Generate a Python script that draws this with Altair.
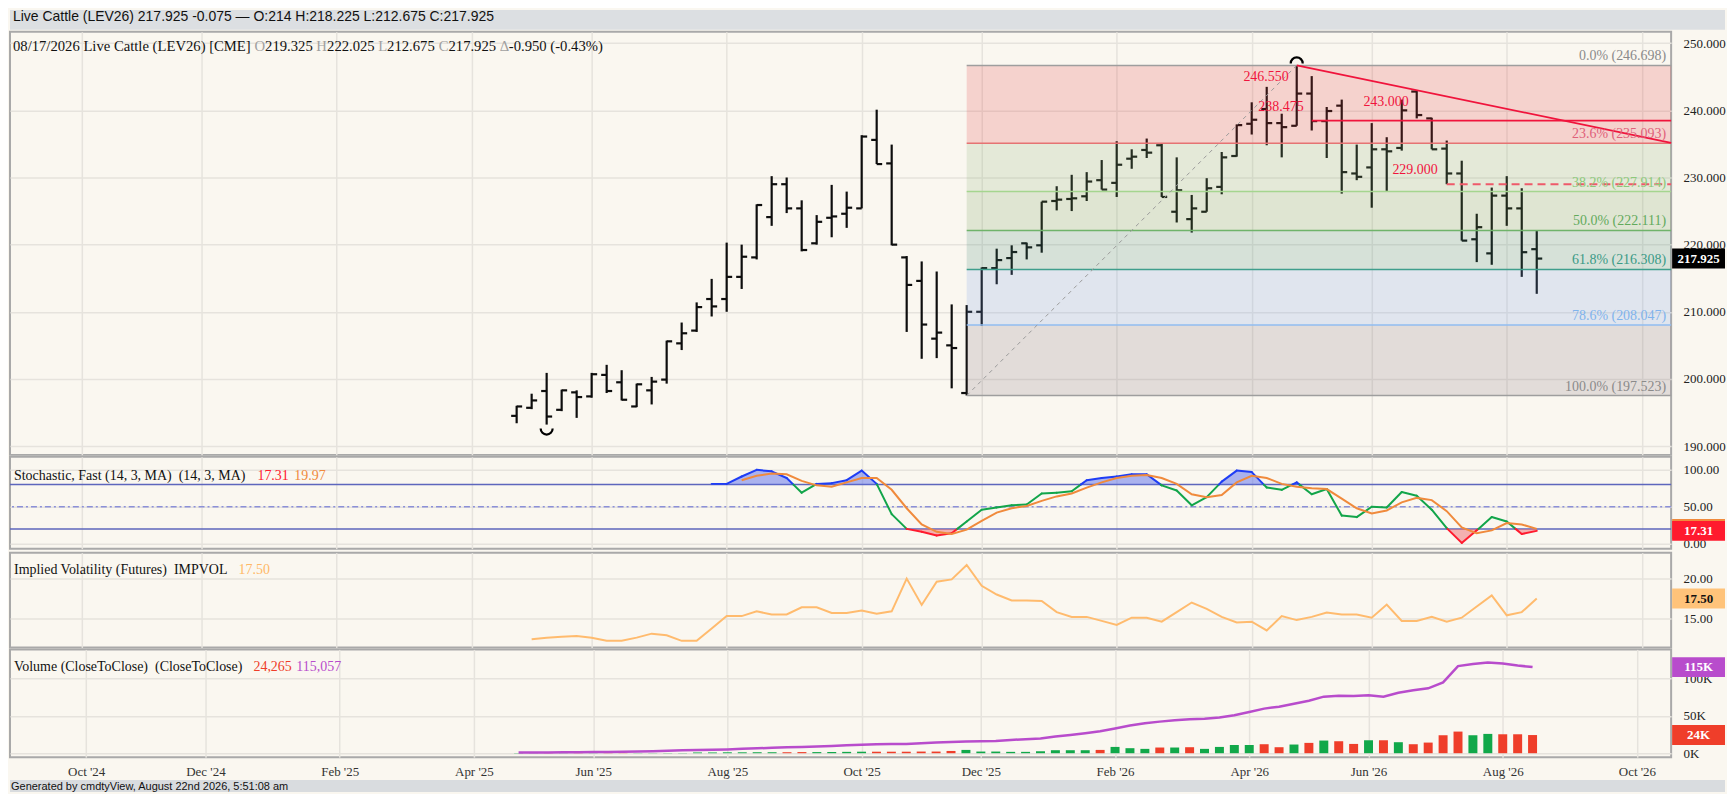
import altair as alt
import pandas as pd

FONT = "Liberation Serif"
SANS = "Liberation Sans"
CREAM = "#faf7f0"
GRID = "#e6e3dd"
BAR = "#0d0d0d"
RED = "#f0143c"
W = 1665

# ---------------- data ----------------
first_bar = "2025-04-28"   # weekly bars (Mondays)
n_bars = 69

opens = [194.5, 195.7, 198.2, 195.4, 198.0, 197.4, 200.6, 199.5, 195.9, 198.3,
         199.9, 205.3, 207.2, 211.9, 211.9, 215.2, 218.1, 224.1, 229.0, 225.4,
         220.2, 224.0, 224.6, 225.4, 235.6, 232.1, 218.1, 214.6, 206.0, 205.0,
         197.9, 210.0, 216.5, 218.0, 220.2, 219.9, 226.5, 226.8, 227.2, 229.6,
         229.2, 232.8, 234.1, 234.8, 224.9, 223.8, 224.9, 228.6, 233.2, 238.0,
         240.2, 238.1, 237.7, 242.5, 238.4, 240.7, 230.6, 231.5, 234.2, 234.4,
         242.8, 238.8, 234.3, 230.6, 220.8, 218.7, 227.3, 225.4, 219.325]
highs = [196.0, 197.8, 200.9, 198.4, 198.3, 200.9, 202.1, 201.3, 199.3, 200.3,
         205.7, 208.4, 211.4, 214.9, 220.3, 220.0, 226.0, 230.2, 230.0, 226.6,
         224.4, 228.9, 227.9, 236.3, 240.1, 234.9, 218.3, 217.5, 216.0, 211.1,
         211.0, 216.6, 219.4, 219.9, 220.3, 226.4, 228.7, 230.4, 230.8, 232.6,
         235.4, 234.2, 235.8, 235.0, 233.0, 227.4, 229.9, 233.8, 237.9, 241.2,
         243.5, 239.5, 246.698, 245.1, 240.5, 241.6, 234.9, 238.1, 236.0, 241.6,
         243.0, 238.9, 235.5, 232.5, 224.6, 228.5, 230.2, 228.4, 222.025]
lows = [193.4, 195.5, 193.2, 195.2, 194.2, 197.2, 197.9, 196.8, 195.8, 196.2,
        199.3, 204.3, 207.0, 209.3, 210.0, 213.4, 217.8, 222.8, 224.7, 219.0,
        220.0, 221.1, 222.5, 225.4, 232.0, 219.9, 207.0, 203.0, 203.1, 198.6,
        197.523, 207.9, 214.1, 215.5, 217.8, 218.8, 225.1, 225.0, 226.5, 228.2,
        227.1, 231.3, 232.9, 227.1, 223.3, 221.8, 224.9, 227.5, 233.1, 236.4,
        234.8, 233.0, 237.7, 237.0, 232.9, 227.6, 229.6, 225.5, 228.0, 234.0,
        238.8, 234.2, 229.0, 220.6, 217.4, 217.0, 222.8, 215.2, 212.675]
closes = [195.9, 196.8, 194.4, 198.3, 197.3, 200.7, 198.2, 196.9, 199.2, 199.6,
          205.6, 206.8, 210.7, 210.8, 215.2, 218.2, 225.9, 229.0, 225.4, 219.2,
          223.4, 224.2, 225.5, 236.1, 232.0, 220.0, 214.0, 208.1, 206.9, 204.6,
          210.0, 216.5, 217.7, 218.9, 219.6, 226.4, 226.7, 226.9, 229.4, 228.2,
          231.9, 233.1, 233.7, 227.1, 228.1, 225.4, 228.4, 233.0, 237.8, 238.6,
          238.1, 237.5, 242.5, 238.4, 239.9, 230.8, 230.1, 234.2, 233.9, 240.0,
          239.3, 234.2, 230.6, 220.6, 222.6, 227.3, 225.4, 218.875, 217.925]

# Stochastic fast %K (from bar 14) and %D (from bar 16)
stoch_k = [81, 81, 91, 100, 98, 89, 69, 81, 82, 86,
           99, 81, 40, 20, 16, 11, 14, 30, 46, 49,
           52, 53, 68, 69, 71, 86, 89, 91, 94, 94,
           79, 72, 52, 63, 84, 99, 97, 76, 73, 83,
           67, 74, 38, 36, 50, 49, 70, 65, 46, 21,
           1, 18, 36, 30, 13, 17.31]
stoch_d = [86, 92, 95, 94, 85, 79, 77, 83,
           89, 89, 73, 48, 26, 16, 13, 19, 31, 42,
           48, 51, 58, 64, 68, 76, 83, 89, 92, 93,
           89, 81, 67, 63, 66, 83, 92, 89, 81, 77,
           75, 74, 61, 48, 41, 45, 56, 62, 59, 44,
           22, 14, 18, 28, 26, 19.97]

# Implied volatility (from bar 2)
impvol = [12.4, 12.6, 12.7, 12.8, 12.6, 12.2, 12.2, 12.6, 13.1, 12.9, 12.2, 12.2,
          13.75, 15.3, 15.3, 15.9, 15.5, 15.5, 16.4, 16.4, 15.7, 15.7,
          16.0, 15.6, 15.9, 20.0, 16.7, 19.6, 19.9, 21.7, 19.1, 18.0,
          17.25, 17.25, 17.2, 15.8, 15.2, 15.2, 14.7, 14.2, 15.1, 15.1,
          14.6, 15.8, 17.0, 16.2, 15.2, 14.5, 14.6, 13.5, 15.3, 14.8,
          15.2, 15.75, 15.5, 15.5, 15.1, 16.75, 14.7, 14.7, 15.2, 14.6,
          15.1, 16.5, 17.9, 15.4, 15.8, 17.5]

# Volume and open interest, thousands
volume_k = [0.2, 0.2, 0.2, 0.2, 0.2, 0.2, 0.2, 0.2, 0.2, 0.2,
            0.3, 0.3, 1.0, 1.0, 1.2, 1.2, 1.3, 1.3, 1.3, 1.5,
            1.5, 1.6, 1.8, 2.0, 2.0, 2.0, 2.0, 2.2, 2.2, 3.0,
            4.4, 2.2, 2.2, 1.8, 1.8, 2.6, 4.0, 4.0, 4.0, 4.4,
            8.4, 6.7, 5.8, 7.6, 7.6, 8.0, 5.8, 8.4, 11.0, 11.0,
            12.0, 8.0, 11.6, 13.8, 16.9, 16.0, 12.4, 17.3, 17.3, 14.7,
            12.0, 14.2, 24.0, 28.9, 24.0, 25.8, 25.3, 25.3, 24.265]
oi_k = [1.0, 1.0, 1.1, 1.2, 1.3, 1.5, 1.7, 2.0, 2.3, 2.7,
        3.2, 3.8, 4.3, 4.6, 5.0, 5.8, 6.5, 7.2, 7.8, 8.4,
        9.0, 9.6, 10.5, 11.2, 12.0, 12.4, 12.4, 13.3, 14.2, 15.1,
        15.6, 16.0, 16.4, 17.8, 18.7, 19.6, 22.2, 24.4, 26.7, 29.3,
        32.9, 36.9, 40.0, 42.2, 44.0, 45.3, 46.2, 47.6, 50.7, 55.1,
        59.6, 62.2, 66.2, 70.2, 75.6, 76.9, 76.4, 77.3, 75.6, 80.9,
        84.0, 86.7, 94.7, 116.4, 119.1, 121.3, 120.0, 117.3, 115.057]

fib_pct = [0.0, 23.6, 38.2, 50.0, 61.8, 78.6, 100.0]
fib_val = [246.698, 235.093, 227.914, 222.111, 216.308, 208.047, 197.523]
resistance = 238.475
support = 229.0

tick_dates = ["2024-10-07", "2024-12-02", "2025-02-03", "2025-04-07", "2025-06-02",
              "2025-08-04", "2025-10-06", "2025-12-01", "2026-02-02", "2026-04-06",
              "2026-06-01", "2026-08-03", "2026-10-05"]

# ---------------- helpers ----------------
def ms(s):
    return int(pd.Timestamp(s).value // 10**6)

dates = pd.date_range(first_bar, periods=n_bars, freq="7D")
date_ms = [int(d.value // 10**6) for d in dates]
tick_ms = [ms(d) for d in tick_dates]
X_MIN = ms("2024-09-03 14:00")
X_MAX = ms("2026-10-18 17:00")
xscale = alt.Scale(type="utc", domain=[X_MIN, X_MAX])
NB2 = "\u00a0 "


def xaxis(labels=False):
    return alt.Axis(values=tick_ms, labels=labels,
                    labelExpr="utcFormat(datum.value, \"%b '%y\")",
                    title=None, ticks=False, domain=False, grid=True, gridColor=GRID,
                    gridWidth=1.5, labelFont=FONT, labelFontSize=13, labelColor="#333",
                    labelPadding=8)


def make_axes(dom, values, fmt=None, expr=None, labels_x=False):
    kw = dict(orient="right", values=values, title=None, ticks=False, domain=False,
              grid=True, gridColor=GRID, gridWidth=1.5, labelFont=FONT, labelFontSize=13,
              labelColor="#222", labelPadding=12)
    if fmt:
        kw["format"] = fmt
    if expr:
        kw["labelExpr"] = expr
    ya = alt.Axis(**kw)
    ys = alt.Scale(domain=dom, nice=False, zero=False)
    xa = xaxis(labels_x)

    def PX(f="date"):
        return alt.X(f"{f}:T", scale=xscale, axis=xa)

    def PY(f):
        return alt.Y(f"{f}:Q", scale=ys, axis=ya)
    return PX, PY


def text_layer(txt, x, y, color="#111", size=14, font=FONT, weight="normal", align="left"):
    return alt.Chart(pd.DataFrame({"t": [txt]})).mark_text(
        align=align, baseline="middle", font=font, fontSize=size, fontWeight=weight,
        color=color).encode(text="t:N", x=alt.value(x), y=alt.value(y))


def value_box(v, label, fill, tcolor, half, PY):
    d = pd.DataFrame({"v": [v], "top": [v + half], "bot": [v - half], "t": [label]})
    r = alt.Chart(d).mark_rect(color=fill).encode(
        x=alt.value(W + 1), x2=alt.value(W + 54), y=PY("top"), y2="bot:Q")
    t = alt.Chart(d).mark_text(color=tcolor, font=FONT, fontSize=13, fontWeight="bold",
                               align="center", baseline="middle").encode(
        x=alt.value(W + 27.5), y=PY("v"), text="t:N")
    return [r, t]


# ---------------- header ----------------
hdr_df = pd.DataFrame({"a": [0]})
header = alt.layer(
    alt.Chart(hdr_df).mark_rect(color="#dcdfe2").encode(
        x=alt.value(0), x2=alt.value(W + 54), y=alt.value(0), y2=alt.value(20)),
    text_layer("Live Cattle (LEV26) 217.925 -0.075 \u2014 O:214 H:218.225 L:212.675 C:217.925",
               3, 7, size=14, font=SANS),
).properties(width=W, height=20, view=alt.ViewBackground(stroke="transparent"))

# ---------------- price panel ----------------
H_PRICE = 424
PRICE_DOM = [188.69, 251.69]
PX, PY = make_axes(PRICE_DOM, [190, 200, 210, 220, 230, 240, 250], fmt=".3f")

df = pd.DataFrame({"date": date_ms, "o": opens, "h": highs, "l": lows, "c": closes})

hl = alt.Chart(df).mark_rule(color=BAR, strokeWidth=2.2).encode(x=PX(), y=PY("l"), y2="h:Q")
op = alt.Chart(df).mark_rule(color=BAR, strokeWidth=2.2, xOffset=-5.5).encode(
    x=PX(), x2="date:T", y=PY("o"))
cl = alt.Chart(df).mark_rule(color=BAR, strokeWidth=2.2, x2Offset=5.5).encode(
    x=PX(), x2="date:T", y=PY("c"))

low_i = 30     # swing low bar (fib 100%)
high_i = 52    # swing high bar (fib 0%)
band_fill = ["#e14341", "#8cb678", "#73a25a", "#468e78", "#78a2e6", "#82757d"]
line_col = ["#9e9e9e", "#e57373", "#a5d58f", "#6fb36a", "#3f9e8c", "#90bdf0", "#9e9e9e"]
lab_col = ["#8a8a8a", "#e0607a", "#8cc97a", "#62aa5c", "#3a9a86", "#80b3ec", "#8a8a8a"]

bands = pd.DataFrame({
    "x0": [date_ms[low_i]] * 6, "x1": [X_MAX] * 6,
    "top": fib_val[:-1], "bot": fib_val[1:], "fill": band_fill})
levels = pd.DataFrame({
    "x0": [date_ms[low_i]] * 7, "x1": [X_MAX] * 7, "val": fib_val,
    "lc": line_col, "tc": lab_col,
    "lab": [f"{p:.1f}% ({v:.3f})" for p, v in zip(fib_pct, fib_val)]})

band_layer = alt.Chart(bands).mark_rect(opacity=0.2).encode(
    x=PX("x0"), x2="x1:T", y=PY("top"), y2="bot:Q", color=alt.Color("fill:N", scale=None))
level_layer = alt.Chart(levels).mark_rule(strokeWidth=1.5).encode(
    x=PX("x0"), x2="x1:T", y=PY("val"), color=alt.Color("lc:N", scale=None))
level_text = alt.Chart(levels).mark_text(align="right", baseline="middle", dx=-5, dy=-9,
                                         font=FONT, fontSize=14).encode(
    x=PX("x1"), y=PY("val"), text="lab:N", color=alt.Color("tc:N", scale=None))

diag = alt.Chart(pd.DataFrame({"t0": [date_ms[low_i]], "t1": [date_ms[high_i]],
                               "v0": [lows[low_i]], "v1": [highs[high_i]]})).mark_rule(
    color="#9a9a9a", strokeDash=[4, 4], strokeWidth=1).encode(
    x=PX("t0"), x2="t1:T", y=PY("v0"), y2="v1:Q")

# trend line through the two swing highs, extended to the right edge
i2 = 60
slope = (highs[i2] - highs[high_i]) / (date_ms[i2] - date_ms[high_i])
v_end = highs[high_i] + slope * (X_MAX - date_ms[high_i])
trend = alt.Chart(pd.DataFrame({"t0": [date_ms[high_i]], "t1": [X_MAX],
                                "v0": [highs[high_i]], "v1": [v_end]})).mark_rule(
    color=RED, strokeWidth=1.6).encode(x=PX("t0"), x2="t1:T", y=PY("v0"), y2="v1:Q")
res_line = alt.Chart(pd.DataFrame({"t0": [date_ms[53]], "t1": [X_MAX], "v": [resistance]})).mark_rule(
    color=RED, strokeWidth=1.6).encode(x=PX("t0"), x2="t1:T", y=PY("v"))
sup_line = alt.Chart(pd.DataFrame({"t0": [date_ms[62]], "t1": [X_MAX], "v": [support]})).mark_rule(
    color="#ee5a6a", strokeWidth=2, strokeDash=[8, 5]).encode(x=PX("t0"), x2="t1:T", y=PY("v"))

ann_layers = []
for txt, bi, val, dx, dy in [("246.550", 52, 246.698, -8, 12),
                             ("238.475", 52, resistance, 7, -14),
                             ("243.000", 60, 243.0, -8, 12),
                             ("229.000", 62, support, -9, -14)]:
    d = pd.DataFrame({"date": [date_ms[bi]], "v": [val], "t": [txt]})
    ann_layers.append(alt.Chart(d).mark_text(align="right", baseline="middle", dx=dx, dy=dy,
                                             font=FONT, fontSize=14, color=RED).encode(
        x=PX(), y=PY("v"), text="t:N"))

CUP = "M -1 0 A 1 1 0 0 0 1 0"
CAP = "M -1 0 A 1 1 0 0 1 1 0"
cup = alt.Chart(pd.DataFrame({"date": [date_ms[2]], "v": [lows[2]]})).mark_point(
    shape=CUP, size=144, filled=False, color="black", strokeWidth=2.2, yOffset=4, opacity=1).encode(
    x=PX(), y=PY("v"))
cap = alt.Chart(pd.DataFrame({"date": [date_ms[high_i]], "v": [highs[high_i]]})).mark_point(
    shape=CAP, size=144, filled=False, color="black", strokeWidth=2.2, yOffset=-2, opacity=1).encode(
    x=PX(), y=PY("v"))

half_p = 10 * (PRICE_DOM[1] - PRICE_DOM[0]) / H_PRICE
price_box = value_box(closes[-1], f"{closes[-1]:.3f}", "#000000", "#ffffff", half_p, PY)

GRAY = "#a0a0a0"
info = [("08/17/2026 Live Cattle (LEV26) [CME]", 3, "#111"),
        ("O", 245, GRAY), ("219.325", 255.7, "#111"),
        ("H", 307, GRAY), ("222.025", 317.8, "#111"),
        ("L", 369, GRAY), ("212.675", 378, "#111"),
        ("C", 429.7, GRAY), ("217.925", 439.5, "#111"),
        ("\u0394", 491, GRAY), ("-0.950 (-0.43%)", 500, "#111")]
info_layers = [text_layer(t, x, 15, color=c, size=14.7) for t, x, c in info]

price = alt.layer(hl, op, cl, band_layer, level_layer, diag, trend, res_line, sup_line,
                  level_text, *ann_layers, cup, cap, *price_box, *info_layers).properties(
    width=W, height=H_PRICE)

# ---------------- stochastic panel ----------------
H_STO = 92
STO_DOM = [-6.8, 117.6]
SX, SY = make_axes(STO_DOM, [0, 50, 100], fmt=".2f")

kx = date_ms[13:]
GREEN_K, BLUE_K, RED_K = "#12a54a", "#1f3df5", "#ff1a2e"
segs = []
pts = [(kx[0], stoch_k[0])]
for i in range(len(stoch_k) - 1):
    x0, v0, x1, v1 = kx[i], stoch_k[i], kx[i + 1], stoch_k[i + 1]
    ts = []
    if v1 != v0:
        for thr in (80, 20):
            t = (thr - v0) / (v1 - v0)
            if 0 < t < 1:
                ts.append(t)
    ts.sort()
    cuts = [0.0] + ts + [1.0]
    for a, b in zip(cuts[:-1], cuts[1:]):
        xa, va = x0 + a * (x1 - x0), v0 + a * (v1 - v0)
        xb, vb = x0 + b * (x1 - x0), v0 + b * (v1 - v0)
        vm = (va + vb) / 2
        col = BLUE_K if vm > 80 else (RED_K if vm < 20 else GREEN_K)
        segs.append({"x0": xa, "x1": xb, "y0": va, "y1": vb, "c": col})
    for t in ts:
        pts.append((x0 + t * (x1 - x0), v0 + t * (v1 - v0)))
    pts.append((x1, v1))
seg_df = pd.DataFrame(segs)
fill_df = pd.DataFrame({"date": [p[0] for p in pts], "v": [p[1] for p in pts]})
fill_df["hi"] = fill_df["v"].clip(lower=80)
fill_df["lo"] = fill_df["v"].clip(upper=20)
fill_df["b80"] = 80
fill_df["b20"] = 20

ob_df = pd.DataFrame({"v": [80, 20]})
ob_rules = alt.Chart(ob_df).mark_rule(color="#5d66bd", strokeWidth=1.5).encode(y=SY("v"))
mid_rule = alt.Chart(pd.DataFrame({"v": [50]})).mark_rule(
    color="#8b90d8", strokeWidth=1.5, strokeDash=[6, 3, 2, 3]).encode(y=SY("v"))
fill_hi = alt.Chart(fill_df).mark_area(color="#5a6dec", opacity=0.5).encode(
    x=SX(), y=SY("hi"), y2="b80:Q")
fill_lo = alt.Chart(fill_df).mark_area(color="#ee6970", opacity=0.5).encode(
    x=SX(), y=SY("lo"), y2="b20:Q")
k_line = alt.Chart(seg_df).mark_rule(strokeWidth=2, strokeCap="round").encode(
    x=SX("x0"), x2="x1:T", y=SY("y0"), y2="y1:Q", color=alt.Color("c:N", scale=None))
d_df = pd.DataFrame({"date": date_ms[15:], "d": stoch_d})
d_line = alt.Chart(d_df).mark_line(color="#f08a3c", strokeWidth=2).encode(x=SX(), y=SY("d"))

half_s = 10 * (STO_DOM[1] - STO_DOM[0]) / H_STO
sto_boxes = (value_box(stoch_d[-1], f"{stoch_d[-1]:.2f}", "#f08a3c", "#ffffff", half_s, SY)
             + value_box(stoch_k[-1], f"{stoch_k[-1]:.2f}", "#ff1a2e", "#ffffff", half_s, SY))
sto_titles = [text_layer("Stochastic, Fast (14, 3, MA)" + NB2 + "(14, 3, MA)", 4, 18.7),
              text_layer(f"{stoch_k[-1]:.2f}", 248, 18.7, color="#ff1a2e"),
              text_layer(f"{stoch_d[-1]:.2f}", 285, 18.7, color="#f08a3c")]
sto = alt.layer(ob_rules, mid_rule, fill_hi, fill_lo, k_line, d_line, *sto_boxes,
                *sto_titles).properties(width=W, height=H_STO)

# ---------------- implied volatility panel ----------------
H_IV = 95
IV_DOM = [11.375, 23.25]
IX, IY = make_axes(IV_DOM, [15, 20], fmt=".2f")
iv_df = pd.DataFrame({"date": date_ms[1:], "iv": impvol})
iv_line = alt.Chart(iv_df).mark_line(color="#ffbb6e", strokeWidth=2).encode(x=IX(), y=IY("iv"))
half_i = 10 * (IV_DOM[1] - IV_DOM[0]) / H_IV
iv_box = value_box(impvol[-1], f"{impvol[-1]:.2f}", "#ffc37a", "#111111", half_i, IY)
iv_titles = [text_layer("Implied Volatility (Futures)" + NB2 + "IMPVOL", 4, 17.7),
             text_layer(f"{impvol[-1]:.2f}", 229, 17.7, color="#ffb866")]
ivp = alt.layer(iv_line, *iv_box, *iv_titles).properties(width=W, height=H_IV)

# ---------------- volume panel ----------------
H_VOL = 108
VOL_DOM = [-5.3, 138.7]
VX, VY = make_axes(VOL_DOM, [0, 50, 100], expr="datum.value + 'K'", labels_x=True)
vcol = ["#11a84a"] + ["#11a84a" if closes[i] >= closes[i - 1] else "#ef3e2a"
                      for i in range(1, n_bars)]
vol_df = pd.DataFrame({"date": date_ms, "vol": volume_k, "oi": oi_k, "c": vcol, "z": 0})
vol_bars = alt.Chart(vol_df).mark_bar(size=9).encode(
    x=VX(), y=VY("vol"), y2="z:Q", color=alt.Color("c:N", scale=None))
oi_line = alt.Chart(vol_df).mark_line(color="#b84ccc", strokeWidth=2.5).encode(x=VX(), y=VY("oi"))
half_v = 10 * (VOL_DOM[1] - VOL_DOM[0]) / H_VOL
vol_boxes = (value_box(oi_k[-1], "115K", "#b84ccc", "#ffffff", half_v, VY)
             + value_box(volume_k[-1], "24K", "#ef3e2a", "#ffffff", half_v, VY))
vol_titles = [text_layer("Volume (CloseToClose)" + NB2 + "(CloseToClose)", 4, 17.7),
              text_layer("24,265", 244, 17.7, color="#ef3e2a"),
              text_layer("115,057", 287, 17.7, color="#b84ccc")]
volp = alt.layer(vol_bars, oi_line, *vol_boxes, *vol_titles).properties(width=W, height=H_VOL)

# ---------------- footer ----------------
footer = alt.layer(
    alt.Chart(hdr_df).mark_rect(color="#d9dcdf").encode(
        x=alt.value(0), x2=alt.value(W + 54), y=alt.value(0), y2=alt.value(12)),
    text_layer("Generated by cmdtyView, August 22nd 2026, 5:51:08 am", 1, 7, size=11, font=SANS),
).properties(width=W, height=10, view=alt.ViewBackground(stroke="transparent"))

chart = alt.vconcat(header, price, sto, ivp, volp, footer, spacing=0).properties(
    padding=0, background=CREAM
).configure_view(stroke="#a9a9a9", strokeWidth=2).configure_concat(spacing=0)

chart.save("out.html", embed_options={"renderer": "svg", "actions": False})
